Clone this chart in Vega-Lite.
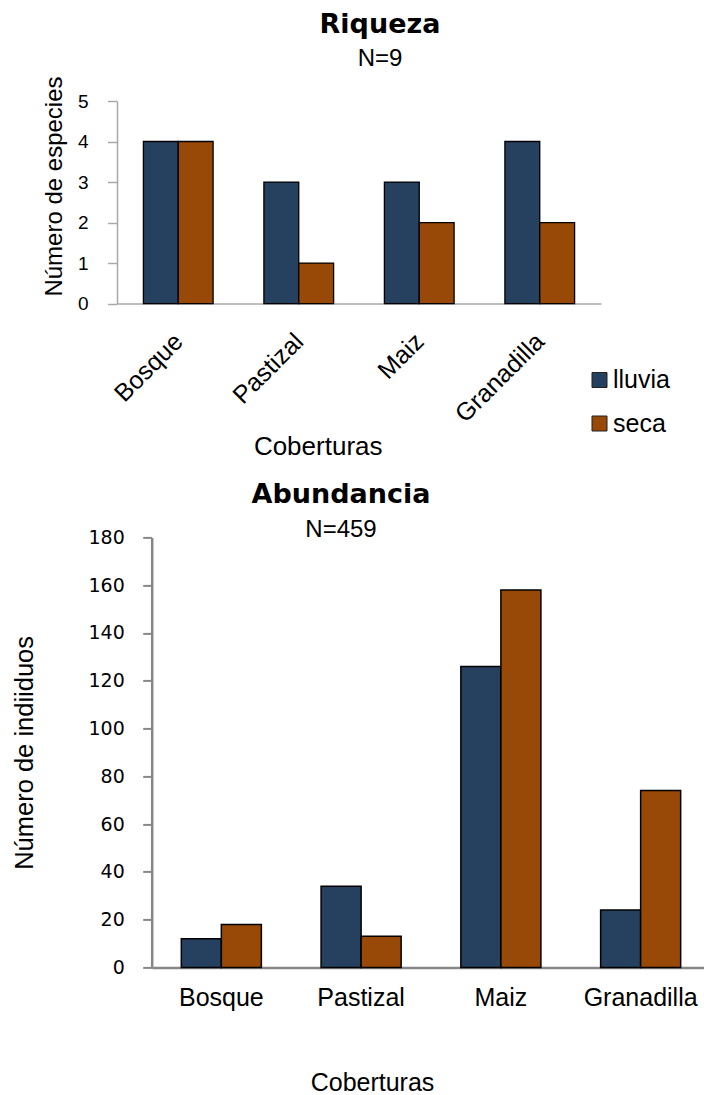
{
  "$schema": "https://vega.github.io/schema/vega-lite/v6.json",
  "autosize": {"type": "pad"},
  "padding": {"left": 11, "top": 11, "right": 0, "bottom": 0},
  "background": "white",
  "config": {"view": {"stroke": null}, "font": "Liberation Sans"},
  "datasets": {
    "riqueza": [
      {"cobertura": "Bosque", "temporada": "lluvia", "especies": 4},
      {"cobertura": "Bosque", "temporada": "seca", "especies": 4},
      {"cobertura": "Pastizal", "temporada": "lluvia", "especies": 3},
      {"cobertura": "Pastizal", "temporada": "seca", "especies": 1},
      {"cobertura": "Maiz", "temporada": "lluvia", "especies": 3},
      {"cobertura": "Maiz", "temporada": "seca", "especies": 2},
      {"cobertura": "Granadilla", "temporada": "lluvia", "especies": 4},
      {"cobertura": "Granadilla", "temporada": "seca", "especies": 2}
    ],
    "abundancia": [
      {"cobertura": "Bosque", "temporada": "lluvia", "individuos": 12},
      {"cobertura": "Bosque", "temporada": "seca", "individuos": 18},
      {"cobertura": "Pastizal", "temporada": "lluvia", "individuos": 34},
      {"cobertura": "Pastizal", "temporada": "seca", "individuos": 13},
      {"cobertura": "Maiz", "temporada": "lluvia", "individuos": 126},
      {"cobertura": "Maiz", "temporada": "seca", "individuos": 158},
      {"cobertura": "Granadilla", "temporada": "lluvia", "individuos": 24},
      {"cobertura": "Granadilla", "temporada": "seca", "individuos": 74}
    ]
  },
  "bounds": "flush",
  "spacing": 233.4,
  "resolve": {
    "scale": {"x": "independent", "y": "independent", "xOffset": "independent"},
    "legend": {"color": "independent"}
  },
  "vconcat": [
    {
      "data": {"name": "riqueza"},
      "width": 484,
      "height": 202.6,
      "title": {
        "text": "Riqueza",
        "subtitle": "N=9",
        "font": "DejaVu Sans",
        "fontSize": 27,
        "fontWeight": "bold",
        "color": "#000000",
        "subtitleFont": "Liberation Sans",
        "subtitleFontSize": 24,
        "subtitleColor": "#000000",
        "subtitlePadding": 7.3,
        "anchor": "middle",
        "frame": "group",
        "dx": 21,
        "offset": 4.2
      },
      "mark": {"type": "bar", "stroke": "#000000", "strokeWidth": 1.3},
      "encoding": {
        "x": {
          "field": "cobertura",
          "type": "nominal",
          "sort": ["Bosque", "Pastizal", "Maiz", "Granadilla"],
          "scale": {"paddingInner": 0.4216, "paddingOuter": 0.2191, "align": 0.5},
          "axis": {
            "title": "Coberturas",
            "labelAngle": -45,
            "labelFontSize": 25,
            "labelColor": "#000000",
            "labelPadding": 25,
            "labelOffset": -8,
            "ticks": false,
            "domainColor": "#A8A8A8",
            "domainWidth": 1.5,
            "titleFontSize": 26,
            "titleFontWeight": "normal",
            "titleColor": "#000000",
            "titleX": 200.7,
            "titleY": 150.7,
            "titleAlign": "center",
            "titleBaseline": "alphabetic"
          }
        },
        "xOffset": {"field": "temporada", "sort": ["lluvia", "seca"]},
        "y": {
          "field": "especies",
          "type": "quantitative",
          "scale": {"domain": [0, 5], "nice": false},
          "axis": {
            "title": "Número de especies",
            "values": [0, 1, 2, 3, 4, 5],
            "grid": false,
            "labelFontSize": 19,
            "labelColor": "#000000",
            "labelPadding": 19.4,
            "tickSize": 9.6,
            "tickColor": "#A8A8A8",
            "tickWidth": 1.5,
            "domainColor": "#A8A8A8",
            "domainWidth": 1.5,
            "titleFontSize": 24,
            "titleFontWeight": "normal",
            "titleColor": "#000000",
            "titleX": -56,
            "titleY": 85,
            "titleAlign": "center",
            "titleBaseline": "alphabetic"
          }
        },
        "color": {
          "field": "temporada",
          "type": "nominal",
          "scale": {"domain": ["lluvia", "seca"], "range": ["#26405F", "#984807"]},
          "legend": {
            "orient": "none",
            "legendX": 470,
            "legendY": 266.5,
            "title": null,
            "padding": 0,
            "symbolType": "square",
            "symbolSize": 225,
            "symbolStrokeColor": "#222222",
            "symbolStrokeWidth": 1,
            "labelFont": "Liberation Sans",
            "labelFontSize": 25,
            "labelColor": "#000000",
            "labelOffset": 1,
            "rowPadding": 17.5
          }
        }
      }
    },
    {
      "data": {"name": "abundancia"},
      "width": 588,
      "height": 430,
      "title": {
        "text": "Abundancia",
        "subtitle": "N=459",
        "font": "DejaVu Sans",
        "fontSize": 27,
        "fontWeight": "bold",
        "color": "#000000",
        "subtitleFont": "Liberation Sans",
        "subtitleFontSize": 24,
        "subtitleColor": "#000000",
        "subtitlePadding": 9,
        "anchor": "middle",
        "frame": "group",
        "dx": -70,
        "offset": -15
      },
      "mark": {"type": "bar", "stroke": "#000000", "strokeWidth": 1.5},
      "encoding": {
        "x": {
          "field": "cobertura",
          "type": "nominal",
          "sort": ["Bosque", "Pastizal", "Maiz", "Granadilla"],
          "scale": {"range": [34.7, 588], "paddingInner": 0.4273, "paddingOuter": 0.193, "align": 0.549},
          "axis": {
            "title": "Coberturas",
            "labelAngle": 0,
            "labelFontSize": 25,
            "labelColor": "#000000",
            "labelPadding": 18,
            "ticks": false,
            "domainColor": "#878787",
            "domainWidth": 2.5,
            "titleFontSize": 25,
            "titleFontWeight": "normal",
            "titleColor": "#000000",
            "titleX": 255,
            "titleY": 123,
            "titleAlign": "center",
            "titleBaseline": "alphabetic"
          }
        },
        "xOffset": {"field": "temporada", "sort": ["lluvia", "seca"]},
        "y": {
          "field": "individuos",
          "type": "quantitative",
          "scale": {"domain": [0, 180], "nice": false},
          "axis": {
            "title": "Número de indiiduos",
            "offset": -34.7,
            "values": [0, 20, 40, 60, 80, 100, 120, 140, 160, 180],
            "grid": false,
            "labelFont": "DejaVu Sans",
            "labelFontSize": 19,
            "labelColor": "#000000",
            "labelPadding": 18.4,
            "tickSize": 9,
            "tickColor": "#878787",
            "tickWidth": 2,
            "domainColor": "#878787",
            "domainWidth": 2.5,
            "titleFontSize": 25.5,
            "titleFontWeight": "normal",
            "titleColor": "#000000",
            "titleX": -119.7,
            "titleAlign": "center",
            "titleBaseline": "alphabetic"
          }
        },
        "color": {"field": "temporada", "type": "nominal", "legend": null}
      }
    }
  ]
}
